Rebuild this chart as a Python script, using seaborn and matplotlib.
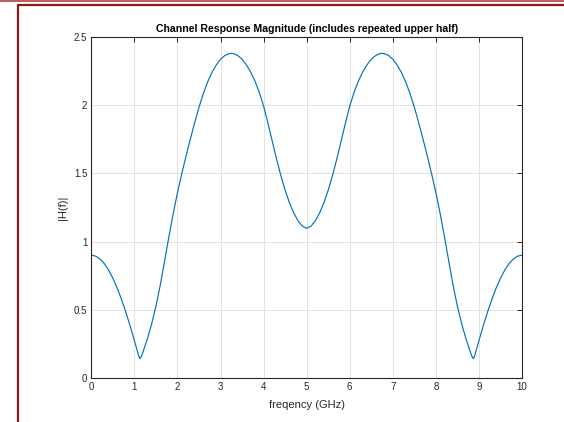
import numpy as np
import pandas as pd
import seaborn as sns
import matplotlib.pyplot as plt
from matplotlib.lines import Line2D

# frequency points (GHz)
freq = [0.0, 0.1, 0.2, 0.3, 0.4, 0.5, 0.6, 0.7, 0.8, 0.9, 1.0, 1.05, 1.1, 1.13,
        1.16, 1.2, 1.3, 1.4, 1.5, 1.6, 1.7, 1.8, 1.9, 2.0, 2.1, 2.2, 2.3, 2.4,
        2.5, 2.6, 2.7, 2.8, 2.9, 3.0, 3.1, 3.2, 3.26, 3.3, 3.4, 3.5, 3.6, 3.7,
        3.8, 3.9, 4.0, 4.1, 4.2, 4.3, 4.4, 4.5, 4.6, 4.7, 4.8, 4.9, 5.0,
        5.1, 5.2, 5.3, 5.4, 5.5, 5.6, 5.7, 5.8, 5.9, 6.0, 6.1, 6.2, 6.3, 6.4,
        6.5, 6.6, 6.7, 6.74, 6.8, 6.9, 7.0, 7.1, 7.2, 7.3, 7.4, 7.5, 7.6, 7.7,
        7.8, 7.9, 8.0, 8.1, 8.2, 8.3, 8.4, 8.5, 8.6, 8.7, 8.8, 8.84, 8.87, 8.9,
        8.95, 9.0, 9.1, 9.2, 9.3, 9.4, 9.5, 9.6, 9.7, 9.8, 9.9, 10.0]

# |H(f)| values
mag = [0.900, 0.893, 0.872, 0.838, 0.790, 0.730, 0.658, 0.575, 0.482, 0.380,
       0.272, 0.215, 0.160, 0.140, 0.155, 0.190, 0.285, 0.395, 0.525, 0.680,
       0.855, 1.035, 1.205, 1.360, 1.500, 1.630, 1.755, 1.875, 1.987, 2.087,
       2.172, 2.242, 2.297, 2.339, 2.367, 2.380, 2.382, 2.381, 2.366, 2.340,
       2.298, 2.245, 2.178, 2.095, 1.995, 1.870, 1.738, 1.607, 1.485, 1.377,
       1.285, 1.210, 1.152, 1.113, 1.097,
       1.113, 1.152, 1.210, 1.285, 1.377, 1.485, 1.607, 1.738, 1.870, 1.995,
       2.095, 2.178, 2.245, 2.298, 2.340, 2.366, 2.381, 2.382, 2.380, 2.367,
       2.339, 2.297, 2.242, 2.172, 2.087, 1.987, 1.875, 1.755, 1.630, 1.500,
       1.360, 1.205, 1.035, 0.855, 0.680, 0.525, 0.395, 0.285, 0.190, 0.155,
       0.140, 0.160, 0.215, 0.272, 0.380, 0.482, 0.575, 0.658, 0.730, 0.790,
       0.838, 0.872, 0.893, 0.900]

x_ticks = [0, 1, 2, 3, 4, 5, 6, 7, 8, 9, 10]
y_ticks = [0, 0.5, 1, 1.5, 2, 2.5]
y_labels = ['0', '0.5', '1', '1.5', '2', '2.5']

df = pd.DataFrame({'freq': freq, 'mag': mag})

sns.set_style('white')
plt.rcParams['font.family'] = ['Liberation Sans', 'DejaVu Sans']

fig = plt.figure(figsize=(5.64, 4.22), dpi=100)
ax = fig.add_axes([0.162, 0.105, 0.7635, 0.8065])

sns.lineplot(data=df, x='freq', y='mag', color='#0072BD', linewidth=0.85, ax=ax)

ax.set_xlim(0, 10)
ax.set_ylim(0, 2.5)
ax.set_xticks(x_ticks)
ax.set_xticklabels([str(t) for t in x_ticks])
ax.set_yticks(y_ticks)
ax.set_yticklabels(y_labels)

ax.grid(True, color='#e3e3e3', linewidth=0.7)
ax.set_axisbelow(True)
for s in ax.spines.values():
    s.set_color('#262626')
    s.set_linewidth(0.8)
ax.tick_params(direction='in', length=3.5, width=0.7, colors='#262626',
               labelsize=7, top=True, right=True, pad=3)

ax.set_title('Channel Response Magnitude (includes repeated upper half)',
             fontsize=7.6, fontweight='bold', color='#000000', pad=4)
ax.set_xlabel('freqency (GHz)', fontsize=8, color='#262626', labelpad=6)
ax.set_ylabel('|H(f)|', fontsize=8, color='#262626', labelpad=4)

# dark red page frame seen in the reference
red = '#8e1b1b'
fig.add_artist(Line2D([0, 1], [0.9985, 0.9985], color='#b04040', linewidth=1.2,
                      transform=fig.transFigure))
fig.add_artist(Line2D([0.032, 1], [0.987, 0.987], color=red, linewidth=1.6,
                      transform=fig.transFigure))
fig.add_artist(Line2D([0.032, 0.032], [0, 0.987], color=red, linewidth=1.6,
                      transform=fig.transFigure))

plt.savefig('out.png', dpi=100)
